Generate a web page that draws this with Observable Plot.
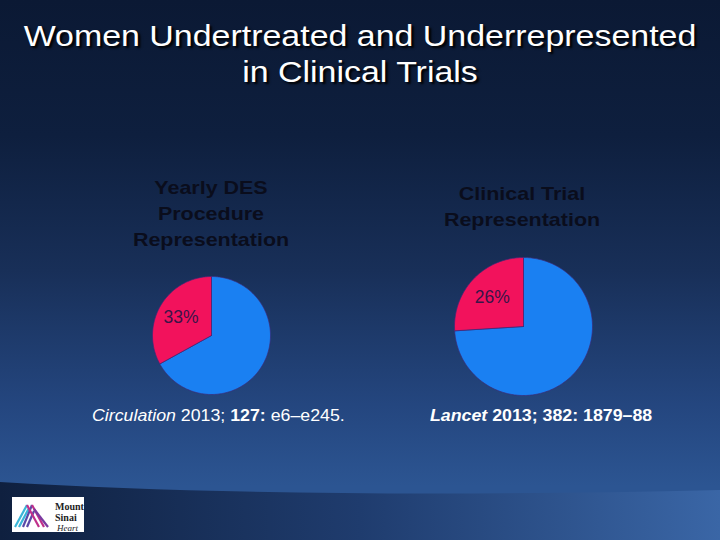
<!DOCTYPE html>
<html><head><meta charset="utf-8">
<script src="https://cdn.jsdelivr.net/npm/d3@7"></script>
<script src="https://cdn.jsdelivr.net/npm/@observablehq/plot@0.6"></script>
<style>
html,body{margin:0;padding:0;}
body{width:720px;height:540px;position:relative;overflow:hidden;font-family:"Liberation Sans",Arial,sans-serif;
 background:linear-gradient(180deg,#0b1934 0%,#0e1f3e 25%,#182f58 50%,#24467f 75%,#2c5592 90%);}
#band{position:absolute;left:0;top:0;width:720px;height:540px;}
.title{position:absolute;left:0;width:720px;text-align:center;color:#fff;font-size:29px;line-height:36px;top:18px;text-shadow:2px 2px 2px #000;transform:scaleX(1.17);transform-origin:50% 50%;}
.sub{position:absolute;text-align:center;color:#0a0d1c;font-weight:bold;font-size:18.5px;line-height:26px;width:240px;transform:scaleX(1.16);transform-origin:50% 50%;}
.cite{position:absolute;color:#fff;font-size:16px;white-space:nowrap;top:407px;transform:scaleX(1.11);transform-origin:0 50%;}
.pie{position:absolute;}
#logo{position:absolute;left:12px;top:497px;width:72px;height:35px;background:#fff;}
</style></head>
<body>
<svg id="band" viewBox="0 0 720 540">
 <defs>
  <linearGradient id="bg2" x1="0" x2="1" y1="0" y2="0">
   <stop offset="0" stop-color="#0f203f"/><stop offset="0.5" stop-color="#1f3c6e"/><stop offset="1" stop-color="#3a66a6"/>
  </linearGradient>
 </defs>
 <path d="M0,482 Q300,500 720,490 L720,540 L0,540 Z" fill="url(#bg2)"/>
</svg>
<div class="title">Women Undertreated and Underrepresented<br>in Clinical Trials</div>
<div class="sub" style="left:91px;top:175px;">Yearly DES<br>Procedure<br>Representation</div>
<div class="sub" style="left:402px;top:181px;">Clinical Trial<br>Representation</div>
<div class="pie" id="pie1" style="left:151px;top:275px;"></div>
<div class="pie" id="pie2" style="left:453px;top:256px;"></div>
<div class="cite" style="left:92px;"><i>Circulation</i> 2013; <b>127:</b> e6–e245.</div>
<div class="cite" style="left:430px;font-weight:bold;"><i>Lancet</i> 2013; 382: 1879–88</div>
<div id="logo">
 <svg width="72" height="35" viewBox="0 0 72 35">
  <g stroke-width="2.2">
   <line x1="3" y1="30" x2="15" y2="8" stroke="#3ab6d8"/>
   <line x1="7" y1="30" x2="17" y2="11" stroke="#3ab6d8"/>
   <line x1="11" y1="30" x2="20" y2="8" stroke="#5a4aa8"/>
   <line x1="15" y1="30" x2="22" y2="14" stroke="#5a4aa8"/>
   <line x1="15" y1="8" x2="27" y2="30" stroke="#c0308a"/>
   <line x1="20" y1="8" x2="32" y2="30" stroke="#c0308a"/>
   <line x1="22" y1="12" x2="36" y2="30" stroke="#7a3aa0"/>
  </g>
  <text x="43" y="13" font-family="Liberation Serif,serif" font-weight="bold" font-size="10" fill="#222">Mount</text>
  <text x="43" y="24" font-family="Liberation Serif,serif" font-weight="bold" font-size="10" fill="#222">Sinai</text>
  <text x="45" y="34" font-family="Liberation Serif,serif" font-style="italic" font-size="9" fill="#222">Heart</text>
 </svg>
</div>
<script>
// Data
const groups = ["Men", "Women"];
const desShare = [67, 33];       // Yearly DES procedure representation (%)
const trialShare = [74, 26];     // Clinical trial representation (%)
const labelText1 = "33%";
const labelText2 = "26%";

function slicePolys(values) {
  const arcs = d3.pie().sort(null).value(d => d)(values);
  const pts = [];
  arcs.forEach((a, i) => {
    const g = groups[i];
    pts.push({g, x: 0, y: 0});
    const n = Math.max(2, Math.ceil((a.endAngle - a.startAngle) / 0.02));
    for (let k = 0; k <= n; k++) {
      const t = a.startAngle + (a.endAngle - a.startAngle) * k / n;
      pts.push({g, x: Math.sin(t), y: Math.cos(t)});
    }
    pts.push({g, x: 0, y: 0});
  });
  return {pts, arcs};
}

function pie(values, label, size, labelR) {
  const {pts, arcs} = slicePolys(values);
  const w = arcs[1];
  const mid = (w.startAngle + w.endAngle) / 2;
  const lab = [{x: Math.sin(mid) * labelR, y: Math.cos(mid) * labelR, t: label}];
  return Plot.plot({
    width: size, height: size, margin: 1,
    x: {domain: [-1, 1], axis: null},
    y: {domain: [-1, 1], axis: null},
    color: {domain: groups, range: ["#1a80f2", "#f2125c"]},
    style: {background: "transparent", overflow: "visible"},
    marks: [
      Plot.line(pts, {x: "x", y: "y", z: "g", fill: "g", stroke: "#3b2a78", strokeWidth: 0.7, curve: "linear"}),
      Plot.text(lab, {x: "x", y: "y", text: "t", fill: "#3a1448", fontSize: 17.5, fontFamily: "Liberation Sans, Arial, sans-serif", transform: null})
    ]
  });
}

document.getElementById("pie1").appendChild(pie(desShare, labelText1, 120, 0.6));
document.getElementById("pie2").appendChild(pie(trialShare, labelText2, 140, 0.62));
</script>
</body></html>
